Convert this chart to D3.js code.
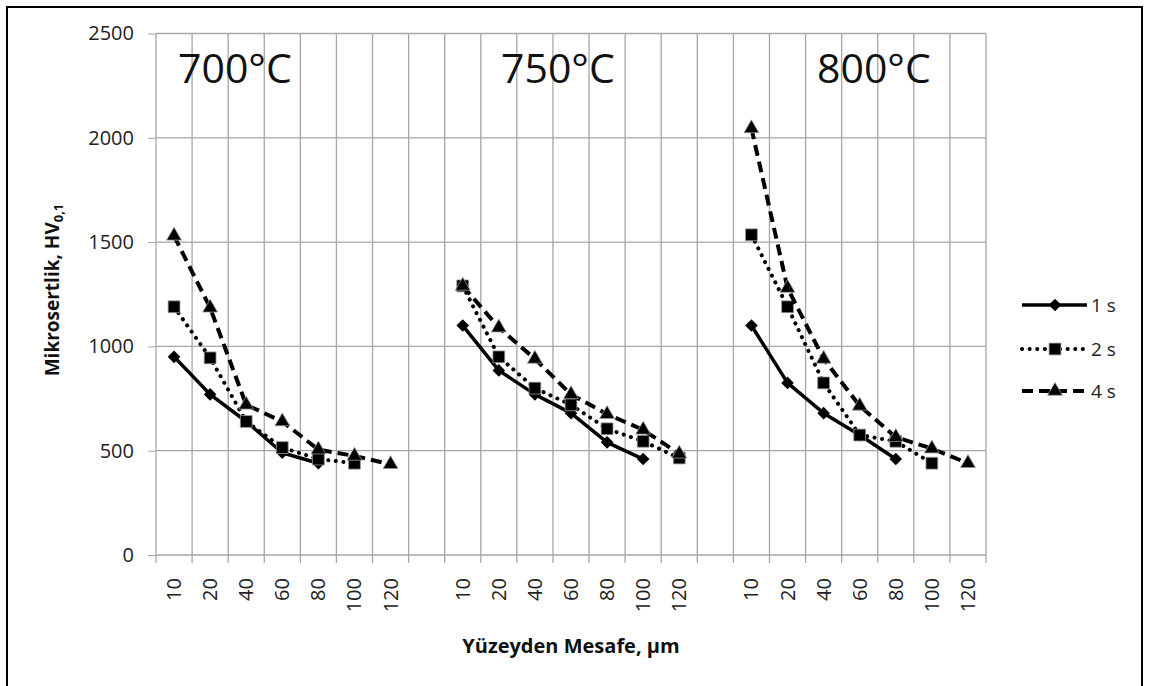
<!DOCTYPE html>
<html>
<head>
<meta charset="utf-8">
<script src="https://cdn.jsdelivr.net/npm/d3@7"></script>
<style>
  body { margin: 0; background: #fff; }
  svg { display: block; }
</style>
</head>
<body>
<div class="chart"></div>
<script>
// distances along the x axis, repeated for each temperature group
const distances = ["10", "20", "40", "60", "80", "100", "120"];
const temps = ["700°C", "750°C", "800°C"];
const series = ["1 s", "2 s", "4 s"];

// microhardness values per temperature group
const hv1s = [
    [950, 770, 640, 490, 440],
    [1100, 885, 770, 680, 540, 460],
    [1100, 825, 680, 575, 460]
];
const hv2s = [
    [1190, 945, 640, 515, 460, 440],
    [1290, 950, 800, 720, 605, 545, 465],
    [1535, 1190, 825, 575, 545, 440]
];
const hv4s = [
    [1530, 1185, 720, 640, 505, 475, 435],
    [1290, 1090, 940, 770, 675, 600, 485],
    [2045, 1280, 940, 715, 565, 510, 440]
];
const yTicks = [0, 500, 1000, 1500, 2000, 2500];

const width = 1150;
const height = 686;
const plotL = 156, plotR = 986, plotT = 33.5, plotB = 555;

// 23 categories: 7 + gap + 7 + gap + 7
let cats = [];
temps.forEach(function(t, gi){
    distances.forEach(function(d){ cats.push(gi + "|" + d); });
    if (gi < temps.length - 1) cats.push("gap" + gi);
});

const x = d3.scaleBand().domain(cats).range([plotL, plotR]).padding(0);
const y = d3.scaleLinear().domain([0, 2500]).range([plotB, plotT]);

const svg = d3.select('.chart')
    .append('svg')
    .attr('width', width)
    .attr('height', height);

svg.append("rect")
    .attr("x", 7).attr("y", 7)
    .attr("width", 1135).attr("height", 690)
    .attr("fill", "white")
    .attr("stroke", "black")
    .attr("stroke-width", 2);

const gridColor = "#a6a6a6";

// horizontal gridlines + y axis
const yAxis = d3.axisLeft(y).tickValues(yTicks).tickFormat(d3.format("d")).tickSize(8).tickSizeOuter(0);
const gy = svg.append("g").attr("transform", "translate(" + plotL + ",0)").call(yAxis);
gy.select(".domain").remove();
gy.selectAll(".tick line").attr("stroke", gridColor);
gy.selectAll(".tick text")
    .attr("x", -22)
    .attr("font-family", "Open Sans, sans-serif")
    .attr("font-size", "20px")
    .attr("fill", "#222");

svg.append("g").selectAll("line")
    .data(yTicks)
    .enter()
    .append("line")
    .attr("x1", plotL).attr("x2", plotR)
    .attr("y1", d => y(d)).attr("y2", d => y(d))
    .attr("stroke", gridColor).attr("stroke-width", 1.3);

// vertical gridlines at category boundaries
let bounds = cats.map(c => x(c)).concat([plotR]);
svg.append("g").selectAll("line")
    .data(bounds)
    .enter()
    .append("line")
    .attr("x1", d => d).attr("x2", d => d)
    .attr("y1", plotT).attr("y2", plotB + 8)
    .attr("stroke", gridColor).attr("stroke-width", 1.3);

// x tick labels (rotated)
svg.append("g").selectAll("text")
    .data(cats.filter(c => c.indexOf("gap") < 0))
    .enter()
    .append("text")
    .text(d => d.split("|")[1])
    .attr("transform", d => "translate(" + (x(d) + x.bandwidth() / 2 + 7) + "," + (plotB + 23) + ") rotate(-90)")
    .attr("text-anchor", "end")
    .attr("font-family", "Open Sans, sans-serif")
    .attr("font-size", "20px")
    .attr("fill", "#222");

// temperature labels
const tempX = [178, 501, 817];
svg.append("g").selectAll("text")
    .data(temps)
    .enter()
    .append("text")
    .text(d => d)
    .attr("x", (d, i) => tempX[i])
    .attr("y", 83)
    .attr("font-family", "Open Sans, sans-serif")
    .attr("font-size", "41px")
    .attr("fill", "#111");

// axis titles
svg.append("text")
    .text("Yüzeyden Mesafe, µm")
    .attr("x", (plotL + plotR) / 2)
    .attr("y", 653)
    .attr("text-anchor", "middle")
    .attr("font-family", "Open Sans, sans-serif")
    .attr("font-weight", "bold")
    .attr("font-size", "20px")
    .attr("fill", "#111");

let yl = svg.append("text")
    .attr("transform", "translate(59,290) rotate(-90)")
    .attr("text-anchor", "middle")
    .attr("font-family", "Open Sans, sans-serif")
    .attr("font-weight", "bold")
    .attr("font-size", "19px")
    .attr("fill", "#111");
yl.append("tspan").text("Mikrosertlik, HV");
yl.append("tspan").text("0,1").attr("font-size", "13px").attr("dy", 4);

// series styles (diamond = square turned 45°)
const styles = [
    { data: hv1s, dash: null, cap: "butt", width: 3.5, symbol: d3.symbolSquare, size: 80, rot: 45, mstroke: "none" },
    { data: hv2s, dash: "0.1,7.5", cap: "round", width: 4, symbol: d3.symbolSquare, size: 140, rot: 0, mstroke: "#999" },
    { data: hv4s, dash: "11,6", cap: "butt", width: 4, symbol: d3.symbolTriangle, size: 95, rot: 0, mstroke: "#999" }
];

const line = d3.line()
    .x(d => x(d.cat) + x.bandwidth() / 2)
    .y(d => y(d.v));

styles.forEach(function(s){
    s.data.forEach(function(vals, gi){
        let pts = vals.map((v, i) => ({ cat: gi + "|" + distances[i], v: v }));
        svg.append("path")
            .datum(pts)
            .attr("d", line)
            .attr("fill", "none")
            .attr("stroke", "black")
            .attr("stroke-width", s.width)
            .attr("stroke-linecap", s.cap)
            .attr("stroke-linejoin", "round")
            .attr("stroke-dasharray", s.dash);
        svg.append("g").selectAll("path")
            .data(pts)
            .enter()
            .append("path")
            .attr("d", d3.symbol().type(s.symbol).size(s.size))
            .attr("transform", d => "translate(" + (x(d.cat) + x.bandwidth() / 2) + "," + y(d.v) + ") rotate(" + s.rot + ")")
            .attr("fill", "black")
            .attr("stroke", s.mstroke)
            .attr("stroke-width", 0.8);
    });
});

// legend
const legY = [305, 349, 391];
styles.forEach(function(s, i){
    let g = svg.append("g");
    g.append("line")
        .attr("x1", 1022).attr("x2", 1087)
        .attr("y1", legY[i]).attr("y2", legY[i])
        .attr("stroke", "black")
        .attr("stroke-width", s.width)
        .attr("stroke-linecap", s.cap)
        .attr("stroke-dasharray", s.dash);
    g.append("path")
        .attr("d", d3.symbol().type(s.symbol).size(s.size))
        .attr("transform", "translate(1055," + legY[i] + ") rotate(" + s.rot + ")")
        .attr("fill", "black")
        .attr("stroke", s.mstroke)
        .attr("stroke-width", 0.8);
    g.append("text")
        .text(series[i])
        .attr("x", 1091)
        .attr("y", legY[i])
        .attr("dy", "0.35em")
        .attr("font-family", "Open Sans, sans-serif")
        .attr("font-size", "19px")
        .attr("fill", "#222");
});
</script>
</body>
</html>
